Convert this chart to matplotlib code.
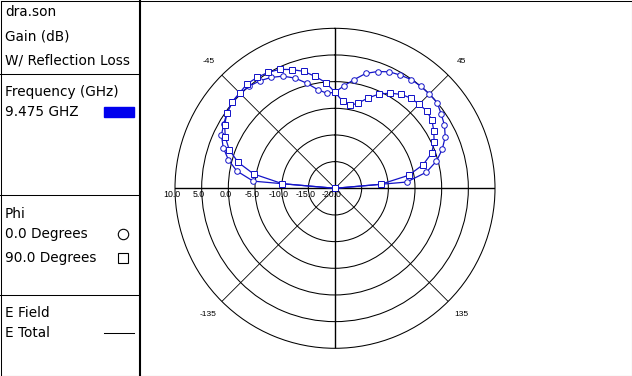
import numpy as np
import matplotlib
matplotlib.use('Agg')
import matplotlib.pyplot as plt
from matplotlib.transforms import offset_copy

# theta in degrees, gain in dB
theta = [-90, -85, -80, -75, -70, -65, -60, -55, -50, -45, -40, -35, -30,
         -25, -20, -15, -10, -5, 0, 5, 10, 15, 20, 25, 30, 35, 40, 45,
         50, 55, 60, 65, 70, 75, 80, 85, 90]
gain_phi0 = [-20, -4.6, -1.3, 0.7, 2.3, 3.5, 4.1, 4.7, 5.1, 5.2, 5.0, 4.6, 4.0,
             3.2, 2.0, 0.4, -1.2, -2.1, -2.0, -0.7, 0.7, 2.3, 3.3, 4.1, 4.5, 4.9,
             5.0, 5.0, 5.0, 4.3, 3.7, 2.8, 1.4, -0.3, -2.6, -6.5, -20]
gain_phi90 = [-20, -10.1, -4.5, -1.2, 1.1, 2.7, 3.9, 4.7, 5.2, 5.3, 5.6, 5.4, 5.1,
              4.6, 3.7, 2.7, 1.3, -0.1, -2.0, -3.6, -4.2, -3.5, -2.0, -0.5, 0.6,
              1.5, 2.1, 2.3, 2.5, 2.2, 1.4, 0.5, -0.7, -2.9, -6.0, -11.4, -20]

r_ticks = [10, 5, 0, -5, -10, -15, -20]
r_labels = ['10.0', '5.0', '0.0', '-5.0', '-10.0', '-15.0', '-20.0']
angle_labels = ['', '45', '', '135', '', '-135', '', '-45']

blue = '#1414c8'
W, H = 632, 376

fig = plt.figure(figsize=(W / 100, H / 100), dpi=100)

# background panel drawn in pixel coordinates
bg = fig.add_axes([0, 0, 1, 1])
bg.set_xlim(0, W)
bg.set_ylim(H, 0)
bg.axis('off')
lw = 0.75
bg.plot([0.5, W - 0.5, W - 0.5, 0.5, 0.5], [0.5, 0.5, H - 0.5, H - 0.5, 0.5], color='black', lw=lw)
bg.plot([140, 140], [0, H], color='black', lw=1.5)
for y in [73.5, 194.5, 294.5]:
    bg.plot([0, 139], [y, y], color='black', lw=lw)

txt = dict(fontsize=9.8, family='DejaVu Sans', va='center', ha='left', color='black')
bg.text(5, 12.5, 'dra.son', **txt)
bg.text(5, 36, 'Gain (dB)', **txt)
bg.text(5, 61, 'W/ Reflection Loss', **txt)
bg.text(5, 92, 'Frequency (GHz)', **txt)
bg.text(5, 111.5, '9.475 GHZ', **txt)
bg.add_patch(plt.Rectangle((104, 107), 30, 10, color='#0000ee'))
bg.text(5, 214, 'Phi', **txt)
bg.text(5, 234, '0.0 Degrees', **txt)
bg.text(5, 258, '90.0 Degrees', **txt)
bg.plot([122.5], [233.5], marker='o', ms=7.5, mfc='white', mec='black', mew=0.8)
bg.plot([122.5], [257.5], marker='s', ms=7.5, mfc='white', mec='black', mew=0.8)
bg.text(5, 313, 'E Field', **txt)
bg.text(5, 333, 'E Total', **txt)
bg.plot([104, 134], [332.5, 332.5], color='black', lw=lw)

# polar plot, centre (335, 188), radius 160 px
cx, cy, rad = 335, 188.3, 160
ax = fig.add_axes([(cx - rad) / W, (H - cy - rad) / H, 2 * rad / W, 2 * rad / H],
                  projection='polar')
ax.set_theta_zero_location('N')
ax.set_theta_direction(-1)
ax.set_rlim(-20, 10)
ax.set_rticks([-15, -10, -5, 0, 5])
ax.set_yticklabels([])
ax.set_thetagrids(np.arange(0, 360, 45), angle_labels, fontsize=6, family='Liberation Sans')
ax.tick_params(axis='x', pad=6.8, length=0)
ax.grid(True, color='black', lw=0.75)
for i, gl in enumerate(ax.xaxis.get_gridlines()):
    gl.set_linewidth(1.0 if i % 2 == 0 else 0.6)
ax.spines['polar'].set_linewidth(0.75)
ax.spines['polar'].set_color('black')

tr = offset_copy(ax.transData, fig=fig, x=-3, y=-2, units='dots')
for r, lab in zip(r_ticks, r_labels):
    ax.text(np.deg2rad(-90), r, lab, transform=tr, ha='center', va='top',
            fontsize=6.3, family='Liberation Sans')

th = np.deg2rad(theta)
ax.plot(th, gain_phi0, color=blue, lw=0.9, marker='o', ms=4.0, mfc='white', mec=blue, mew=0.7)
ax.plot(th, gain_phi90, color=blue, lw=0.9, marker='s', ms=4.6, mfc='white', mec=blue, mew=0.7)

fig.savefig('out.png', dpi=100)
